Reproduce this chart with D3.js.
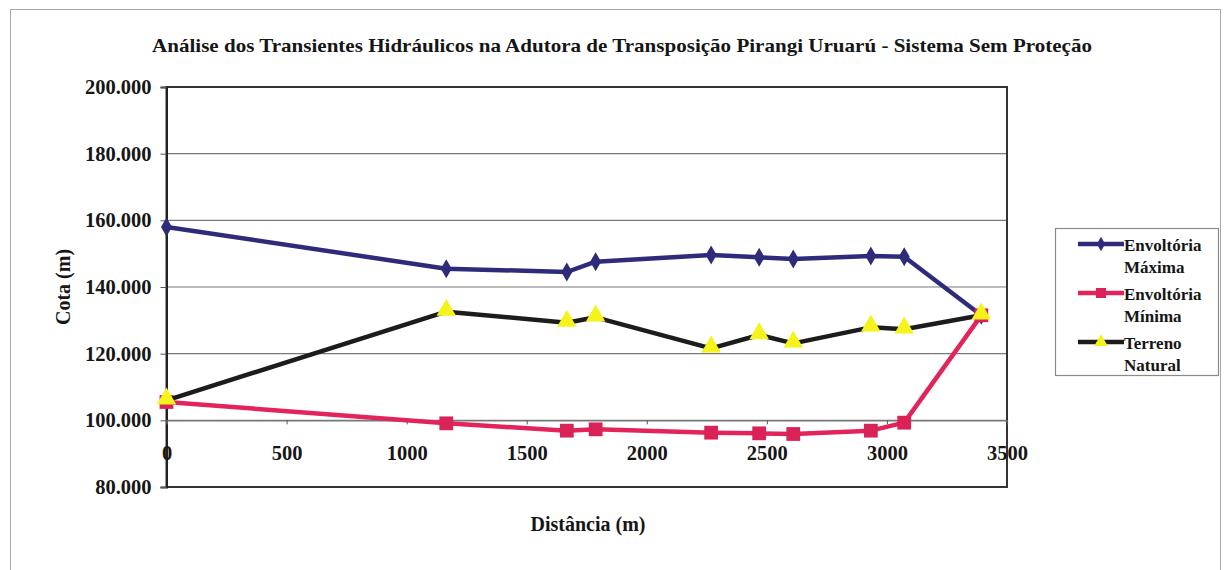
<!DOCTYPE html>
<html>
<head>
<meta charset="utf-8">
<script src="https://cdn.jsdelivr.net/npm/d3@7"></script>
<style>
  html, body { margin: 0; padding: 0; background: #ffffff; }
  svg { display: block; }
  text { font-family: "Liberation Serif", "Times New Roman", serif; font-weight: bold; fill: #161616; }
</style>
</head>
<body>
<svg id="chart" width="1226" height="570"></svg>
<script>
// Distância ao longo da adutora (m)
const distancias = [0, 1165, 1667, 1787, 2268, 2468, 2610, 2933, 3072, 3393];
// Cotas (m)
const envoltoriaMaxima = [158.0, 145.5, 144.5, 147.6, 149.6, 148.9, 148.4, 149.3, 149.1, 131.5];
const envoltoriaMinima = [105.5, 99.1, 96.9, 97.3, 96.3, 96.1, 95.9, 96.9, 99.3, 131.5];
const terrenoNatural   = [106.0, 132.6, 129.3, 130.9, 121.6, 125.6, 123.1, 127.9, 127.3, 131.5];

const yTicks = [80, 100, 120, 140, 160, 180, 200];
const xTicks = [0, 500, 1000, 1500, 2000, 2500, 3000, 3500];

const titulo = "Análise dos Transientes Hidráulicos na Adutora de Transposição Pirangi Uruarú - Sistema  Sem Proteção";

const series = [
  { nome: ["Envoltória", "Máxima"], valores: envoltoriaMaxima, cor: "#2e2c7a", marcador: "diamond", corMarcador: "#2e2c7a" },
  { nome: ["Envoltória", "Mínima"], valores: envoltoriaMinima, cor: "#e2245a", marcador: "square", corMarcador: "#d92257" },
  { nome: ["Terreno", "Natural"], valores: terrenoNatural, cor: "#1c1c1c", marcador: "triangle", corMarcador: "#f6f21c" }
];

const svg = d3.select("#chart");

// Moldura externa da área do gráfico
svg.append("rect")
  .attr("x", 10.5).attr("y", 9.5).attr("width", 1210).attr("height", 580)
  .attr("fill", "none").attr("stroke", "#a8a8a8").attr("stroke-width", 1);

const x = d3.scaleLinear().domain([0, 3500]).range([166.5, 1007]);
const y = d3.scaleLinear().domain([80, 200]).range([487, 87]);

// Linhas de grade horizontais
svg.append("g").selectAll("line").data(yTicks.filter(v => v > 80 && v < 200)).join("line")
  .attr("x1", x(0)).attr("x2", x(3500))
  .attr("y1", d => y(d)).attr("y2", d => y(d))
  .attr("stroke", "#7a7a7a").attr("stroke-width", 1.2);

// Moldura da área de plotagem
svg.append("rect")
  .attr("x", x(0)).attr("y", y(200)).attr("width", x(3500) - x(0)).attr("height", y(80) - y(200))
  .attr("fill", "none").attr("stroke", "#333").attr("stroke-width", 2);

// Eixo vertical
const yAxis = d3.axisLeft(y).tickValues(yTicks).tickSize(6).tickPadding(9)
  .tickFormat(d => d3.format(".3f")(d));
const gy = svg.append("g").attr("transform", `translate(${x(0)},0)`).call(yAxis);
gy.select(".domain").attr("stroke", "#222").attr("stroke-width", 2);
gy.selectAll(".tick line").attr("stroke", "#555");
gy.selectAll(".tick text").style("font-size", "20.5px").attr("fill", "#161616");

// Eixo horizontal cruzando em 100
const xAxis = d3.axisBottom(x).tickValues(xTicks).tickSize(4).tickPadding(21).tickFormat(d3.format("d"));
const gx = svg.append("g").attr("transform", `translate(0,${y(100)})`).call(xAxis);
gx.select(".domain").attr("stroke", "#777").attr("stroke-width", 1.2);
gx.selectAll(".tick line").attr("stroke", "#555");
gx.selectAll(".tick text").style("font-size", "20.5px").attr("fill", "#161616");

// Títulos
svg.append("text")
  .attr("x", 622).attr("y", 52).attr("text-anchor", "middle")
  .attr("textLength", 940).attr("lengthAdjust", "spacingAndGlyphs")
  .style("font-size", "19px").text(titulo);

svg.append("text")
  .attr("transform", "translate(70,287) rotate(-90)")
  .attr("text-anchor", "middle").style("font-size", "20px").text("Cota (m)");

svg.append("text")
  .attr("x", 588).attr("y", 531).attr("text-anchor", "middle")
  .style("font-size", "20px").text("Distância (m)");

// Símbolos dos marcadores
const simbolo = {
  diamond: d3.symbol(d3.symbolDiamond, 105),
  square: d3.symbol(d3.symbolSquare, 190),
  triangle: d3.symbol(d3.symbolTriangle, 165)
};
const simboloLegenda = {
  diamond: d3.symbol(d3.symbolDiamond, 60),
  square: d3.symbol(d3.symbolSquare, 100),
  triangle: d3.symbol(d3.symbolTriangle, 80)
};

const linha = d3.line().x(d => x(d[0])).y(d => y(d[1]));

// Séries na ordem de plotagem: máxima, mínima e terreno por cima
series.forEach(s => {
  const pts = distancias.map((d, i) => [d, s.valores[i]]);
  svg.append("path").datum(pts)
    .attr("d", linha).attr("fill", "none")
    .attr("stroke", s.cor).attr("stroke-width", 4.5).attr("stroke-linejoin", "round");
  svg.append("g").selectAll("path").data(pts).join("path")
    .attr("transform", d => `translate(${x(d[0])},${y(d[1]) + (s.marcador === "triangle" ? -1.5 : 0)})`)
    .attr("d", simbolo[s.marcador]())
    .attr("fill", s.corMarcador);
});

// Legenda
const legenda = svg.append("g");
legenda.append("rect")
  .attr("x", 1055.5).attr("y", 228.5).attr("width", 163).attr("height", 147)
  .attr("fill", "#fff").attr("stroke", "#8a8a8a").attr("stroke-width", 1.2);

const linhaY = [244, 293, 342];
series.forEach((s, i) => {
  const g = legenda.append("g");
  g.append("line")
    .attr("x1", 1078).attr("x2", 1124).attr("y1", linhaY[i]).attr("y2", linhaY[i])
    .attr("stroke", s.cor).attr("stroke-width", 4.5);
  g.append("path")
    .attr("transform", `translate(1101,${linhaY[i]})`)
    .attr("d", simboloLegenda[s.marcador]())
    .attr("fill", s.corMarcador);
  s.nome.forEach((t, k) => {
    g.append("text")
      .attr("x", 1124).attr("y", linhaY[i] + 7 + k * 22)
      .style("font-size", "17px").text(t);
  });
});
</script>
</body>
</html>
